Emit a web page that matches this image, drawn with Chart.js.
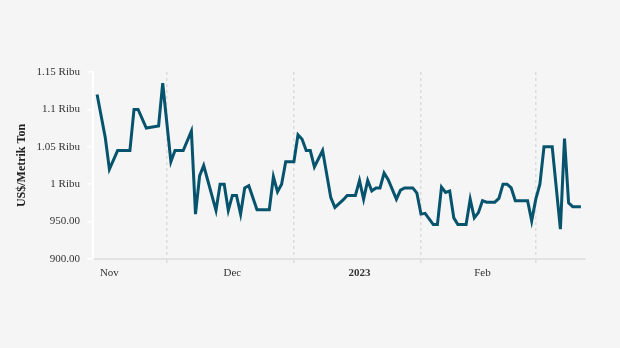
<!DOCTYPE html>
<html lang="en">
<head>
    <meta charset="UTF-8">
    <title>US$/Metrik Ton</title>
    <script src="https://cdn.jsdelivr.net/npm/chart.js"></script>
    <style>
        body { margin: 0; background: #f5f5f5; }
        canvas { display: block; }
    </style>
</head>
<body>
    <canvas id="priceChart" width="620" height="348"></canvas>

    <script>
        // Price series (vertices of the line)
        const dates = [
            '2022-11-14', '2022-11-16', '2022-11-17', '2022-11-19', '2022-11-22', '2022-11-23',
            '2022-11-24', '2022-11-26', '2022-11-29', '2022-11-30', '2022-12-02', '2022-12-03',
            '2022-12-05', '2022-12-07', '2022-12-08', '2022-12-09', '2022-12-10', '2022-12-13',
            '2022-12-14', '2022-12-15', '2022-12-16', '2022-12-17', '2022-12-18', '2022-12-19',
            '2022-12-20', '2022-12-21', '2022-12-23', '2022-12-26', '2022-12-27', '2022-12-28',
            '2022-12-29', '2022-12-30', '2023-01-01', '2023-01-02', '2023-01-03', '2023-01-04',
            '2023-01-05', '2023-01-06', '2023-01-08', '2023-01-10', '2023-01-11', '2023-01-13',
            '2023-01-14', '2023-01-16', '2023-01-17', '2023-01-18', '2023-01-19', '2023-01-20',
            '2023-01-21', '2023-01-22', '2023-01-23', '2023-01-24', '2023-01-26', '2023-01-27',
            '2023-01-28', '2023-01-30', '2023-01-31', '2023-02-01', '2023-02-02', '2023-02-04',
            '2023-02-05', '2023-02-06', '2023-02-07', '2023-02-08', '2023-02-09', '2023-02-10',
            '2023-02-12', '2023-02-13', '2023-02-14', '2023-02-15', '2023-02-16', '2023-02-17',
            '2023-02-19', '2023-02-20', '2023-02-21', '2023-02-22', '2023-02-23', '2023-02-24',
            '2023-02-27', '2023-02-28', '2023-03-01', '2023-03-02', '2023-03-03', '2023-03-05',
            '2023-03-07', '2023-03-08', '2023-03-09', '2023-03-10', '2023-03-12'
        ];
        const prices = [
            1120, 1062, 1020, 1045, 1045, 1100,
            1100, 1075, 1078, 1135, 1030, 1045,
            1045, 1071, 960, 1011, 1025, 965,
            1000, 1000, 965, 985, 985, 960,
            995, 998, 966, 966, 1010, 990,
            1000, 1030, 1030, 1066, 1060, 1045,
            1045, 1023, 1045, 982, 969, 979,
            985, 985, 1005, 980, 1005, 991,
            995, 995, 1015, 1006, 980, 992,
            995, 995, 988, 960, 961, 946,
            946, 996, 989, 991, 955, 946,
            946, 980, 955, 962, 978, 976,
            976, 981, 1000, 1000, 995, 978,
            978, 951, 980, 1000, 1050, 1050,
            940, 1061, 975, 970, 970
        ];

        // X axis: labels sit mid-month, dashed grid lines on month starts
        const xMin = '2022-11-13';
        const xMax = '2023-03-13';
        const monthLabels = ['Nov', 'Dec', '2023', 'Feb'];
        const labelDates = ['2022-11-17', '2022-12-17', '2023-01-17', '2023-02-16'];
        const gridDates = ['2022-12-01', '2023-01-01', '2023-02-01', '2023-03-01'];

        // Y axis
        const yTicks = [900, 950, 1000, 1050, 1100, 1150];
        const yLabels = ['900.00', '950.00', '1 Ribu', '1.05 Ribu', '1.1 Ribu', '1.15 Ribu'];

        const dayNum = s => Date.parse(s + 'T00:00:00Z') / 86400000;

        const labelDays = labelDates.map(dayNum);
        const gridDays = gridDates.map(dayNum);
        const isGrid = v => gridDays.includes(v);

        const fontFamily = '"Liberation Serif", "DejaVu Serif", serif';

        const ctx = document.getElementById('priceChart').getContext('2d');
        new Chart(ctx, {
            type: 'line',
            data: {
                datasets: [{
                    label: 'US$/Metrik Ton',
                    data: dates.map((d, i) => ({ x: dayNum(d), y: prices[i] })),
                    borderColor: '#06536d',
                    borderWidth: 3,
                    pointRadius: 0,
                    tension: 0,
                    fill: false
                }]
            },
            options: {
                responsive: false,
                animation: false,
                layout: { padding: { left: 11, right: 35, top: 72, bottom: 0 } },
                plugins: {
                    legend: { display: false },
                    tooltip: { enabled: false }
                },
                scales: {
                    x: {
                        type: 'linear',
                        min: dayNum(xMin),
                        max: dayNum(xMax),
                        afterBuildTicks: scale => {
                            scale.ticks = labelDays.concat(gridDays).sort((a, b) => a - b).map(v => ({ value: v }));
                        },
                        afterFit: scale => { scale.height = 89; },
                        grid: {
                            color: c => (c.tick && isGrid(c.tick.value)) ? '#dcdcdc' : 'rgba(0,0,0,0)',
                            tickColor: c => (c.tick && isGrid(c.tick.value)) ? '#dcdcdc' : 'rgba(0,0,0,0)',
                            lineWidth: 1.5,
                            tickWidth: 1.5,
                            tickLength: 5,
                            tickBorderDash: [3, 3]
                        },
                        border: { display: true, color: '#e2e2e2', width: 2, dash: [3, 3] },
                        ticks: {
                            autoSkip: false,
                            maxRotation: 0,
                            padding: 3,
                            color: '#333333',
                            font: c => ({
                                family: fontFamily,
                                size: 11,
                                weight: (c.tick && c.tick.label === '2023') ? 'bold' : 'normal'
                            }),
                            callback: value => {
                                const i = labelDays.indexOf(value);
                                return i >= 0 ? monthLabels[i] : '';
                            }
                        }
                    },
                    y: {
                        min: 900,
                        max: 1150,
                        afterBuildTicks: scale => {
                            scale.ticks = yTicks.map(v => ({ value: v }));
                        },
                        afterFit: scale => { scale.width = 82; },
                        grid: {
                            drawOnChartArea: false,
                            drawTicks: true,
                            tickLength: 6,
                            color: '#ffffff',
                            lineWidth: 1.5
                        },
                        border: { display: true, color: '#ffffff', width: 2 },
                        ticks: {
                            padding: 7,
                            color: '#333333',
                            font: { family: fontFamily, size: 11 },
                            callback: value => {
                                const i = yTicks.indexOf(value);
                                return i >= 0 ? yLabels[i] : '';
                            }
                        },
                        title: {
                            display: true,
                            text: 'US$/Metrik Ton',
                            color: '#222222',
                            padding: { top: 4, bottom: 0 },
                            font: { family: fontFamily, size: 12, weight: 'bold' }
                        }
                    }
                }
            }
        });
    </script>
</body>
</html>
